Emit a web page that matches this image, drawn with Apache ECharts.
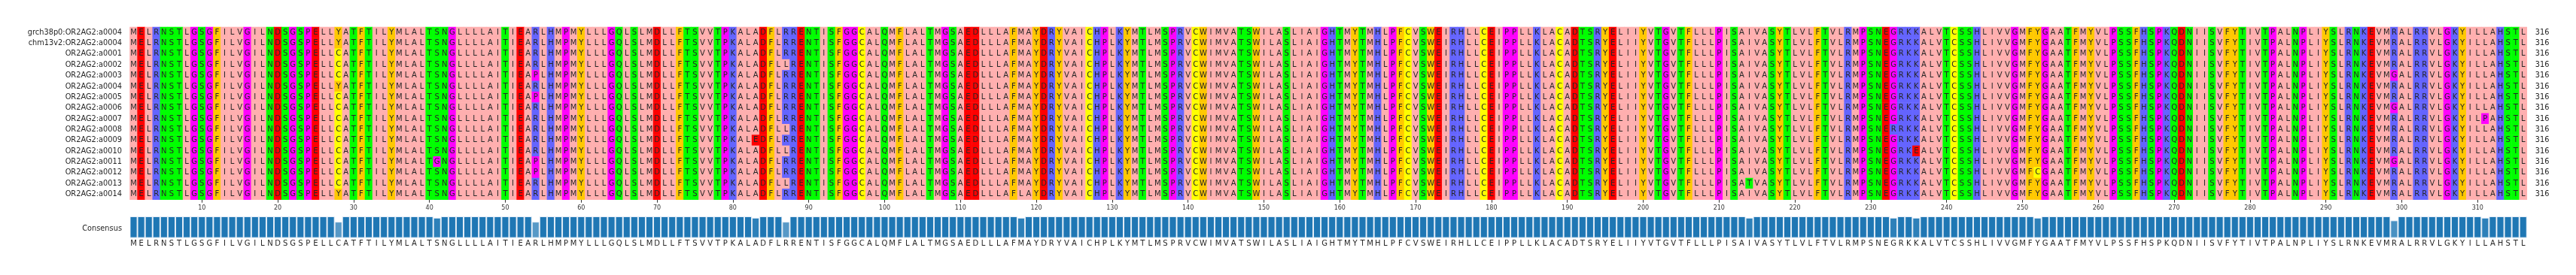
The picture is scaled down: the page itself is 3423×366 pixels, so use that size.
<!DOCTYPE html>
<html>
<head>
<meta charset="utf-8">
<script src="https://cdn.jsdelivr.net/npm/echarts@6/dist/echarts.min.js"></script>
<style>
html,body{margin:0;padding:0;background:#ffffff;}
#chart{width:3423px;height:366px;}
</style>
</head>
<body>
<div id="chart"></div>
<script>
// ---------------- DATA ----------------
const rowLabels = [
  "grch38p0:OR2AG2:a0004",
  "chm13v2:OR2AG2:a0004",
  "OR2AG2:a0001",
  "OR2AG2:a0002",
  "OR2AG2:a0003",
  "OR2AG2:a0004",
  "OR2AG2:a0005",
  "OR2AG2:a0006",
  "OR2AG2:a0007",
  "OR2AG2:a0008",
  "OR2AG2:a0009",
  "OR2AG2:a0010",
  "OR2AG2:a0011",
  "OR2AG2:a0012",
  "OR2AG2:a0013",
  "OR2AG2:a0014"
];

// reference (OR2AG2:a0001) protein sequence, 316 residues
const referenceSeq =
  "MELRNSTLGS" + "GFILVGILND" + "SGSPELLCAT" + "FTILYMLALT" + "SNGLLLLAIT" +
  "IEARLHMPMY" + "LLLGQLSLMD" + "LLFTSVVTPK" + "ALADFLRREN" + "TISFGGCALQ" +
  "MFLALTMGSA" + "EDLLLAFMAY" + "DRYVAICHPL" + "KYMTLMSPRV" + "CWIMVATSWI" +
  "LASLIAIGHT" + "MYTMHLPFCV" + "SWEIRHLLCE" + "IPPLLKLACA" + "DTSRYELIIY" +
  "VTGVTFLLLP" + "ISAIVASYTL" + "VLFTVLRMPS" + "NEGRKKALVT" + "CSSHLIVVGM" +
  "FYGAATFMYV" + "LPSSFHSPKQ" + "DNIISVFYTI" + "VTPALNPLIY" + "SLRNKEVMRA" +
  "LRRVLGKYIL" + "LAHSTL";

// per-row substitutions relative to referenceSeq: [position (1-based), residue]
const substitutions = [
  [[28, "Y"]],
  [[28, "Y"]],
  [],
  [[87, "L"]],
  [[54, "P"], [299, "G"]],
  [[28, "Y"]],
  [[54, "P"]],
  [[299, "G"]],
  [[311, "P"]],
  [[87, "L"], [233, "R"]],
  [[83, "E"]],
  [[87, "L"], [236, "E"]],
  [[41, "G"], [54, "P"], [299, "G"]],
  [[54, "P"], [252, "C"]],
  [[87, "L"], [214, "T"]],
  [[28, "Y"], [118, "L"]]
];

const tickPositions = [10,20,30,40,50,60,70,80,90,100,110,120,130,140,150,160,
                       170,180,190,200,210,220,230,240,250,260,270,280,290,300,310];

// Zappo colour scheme (residue groups)
const residueGroups = ["ILVAM", "FWY", "KRH", "DE", "STNQ", "PG", "C"];
const groupColors = ["#ffafaf", "#ffc800", "#6464ff", "#ff0000", "#00ff00", "#ff00ff", "#ffff00"];

// ---------------- BUILD ----------------
const sequences = substitutions.map(subs => {
  const arr = referenceSeq.split("");
  subs.forEach(([pos, aa]) => { arr[pos - 1] = aa; });
  return arr.join("");
});
const seqLen = referenceSeq.length;
const positions = Array.from({length: seqLen}, (_, i) => String(i + 1));
const rowLengths = sequences.map(s => String(s.replace(/-/g, "").length));
const groupOf = aa => residueGroups.findIndex(g => g.indexOf(aa) >= 0);

const cells = [];
const cellLetters = [];
sequences.forEach((s, r) => {
  for (let i = 0; i < s.length; i++) {
    cells.push([i, r, groupOf(s[i])]);
    cellLetters.push(s[i]);
  }
});

const consensusLetters = [];
const consensusScore = [];
for (let i = 0; i < seqLen; i++) {
  const counts = {};
  sequences.forEach(s => { counts[s[i]] = (counts[s[i]] || 0) + 1; });
  let best = null, bestN = -1;
  Object.keys(counts).forEach(k => { if (counts[k] > bestN) { bestN = counts[k]; best = k; } });
  consensusLetters.push(best);
  consensusScore.push(bestN / sequences.length);
}

const FONT = '"DejaVu Sans", sans-serif';
const TXT = "#262626";
const gridLeft = 172.5, gridWidth = 3185.3;

const chart = echarts.init(document.getElementById("chart"), null, {renderer: "canvas"});
chart.setOption({
  animation: false,
  backgroundColor: "#ffffff",
  grid: [
    {left: gridLeft, top: 36, width: gridWidth, height: 229.7},
    {left: gridLeft, top: 288, width: gridWidth, height: 28.7}
  ],
  visualMap: {
    type: "piecewise", show: false, seriesIndex: 0, dimension: 2,
    pieces: groupColors.map((c, i) => ({value: i, color: c}))
  },
  xAxis: [
    {
      type: "category", gridIndex: 0, data: positions, position: "bottom",
      axisLine: {show: false},
      axisTick: {show: true, alignWithLabel: true, length: 4,
        interval: (i) => tickPositions.includes(i + 1),
        lineStyle: {color: "#333333", width: 1}},
      axisLabel: {show: true, fontSize: 8, color: "#333333", fontFamily: FONT, margin: 7,
        interval: (i) => tickPositions.includes(i + 1)},
      splitLine: {show: false}, splitArea: {show: false}
    },
    {
      type: "category", gridIndex: 1, data: consensusLetters, position: "bottom",
      axisLine: {show: false}, axisTick: {show: false},
      axisLabel: {show: true, interval: 0, fontSize: 10, color: TXT, fontFamily: FONT, margin: 3},
      splitLine: {show: false}
    }
  ],
  yAxis: [
    {
      type: "category", gridIndex: 0, data: rowLabels, inverse: true,
      axisLine: {show: false}, axisTick: {show: false},
      axisLabel: {fontSize: 9.8, color: TXT, fontFamily: FONT, margin: 10.5},
      splitArea: {show: false}
    },
    {
      type: "category", gridIndex: 0, data: rowLengths, inverse: true, position: "right",
      axisLine: {show: false}, axisTick: {show: false},
      axisLabel: {fontSize: 9.8, color: TXT, fontFamily: FONT, margin: 11}
    },
    {
      type: "value", gridIndex: 1, min: 0, max: 1, show: false
    }
  ],
  graphic: [
    {type: "text", x: 162, y: 304,
     style: {text: "Consensus", align: "right", verticalAlign: "middle",
             fill: TXT, font: '9.8px "DejaVu Sans", sans-serif'}}
  ],
  series: [
    {
      type: "heatmap", xAxisIndex: 0, yAxisIndex: 0, data: cells,
      progressive: 0,
      itemStyle: {borderWidth: 0},
      label: {
        show: true, fontSize: 10, color: TXT, fontFamily: FONT,
        formatter: (p) => cellLetters[p.dataIndex]
      },
      emphasis: {disabled: true}
    },
    {
      type: "bar", xAxisIndex: 1, yAxisIndex: 2, barCategoryGap: "0%",
      data: consensusScore.map(v => ({
        value: v,
        itemStyle: {color: "rgba(31,119,180," + v + ")", borderColor: "rgba(235,242,250,0.9)", borderWidth: 1}
      }))
    }
  ]
});
</script>
</body>
</html>
